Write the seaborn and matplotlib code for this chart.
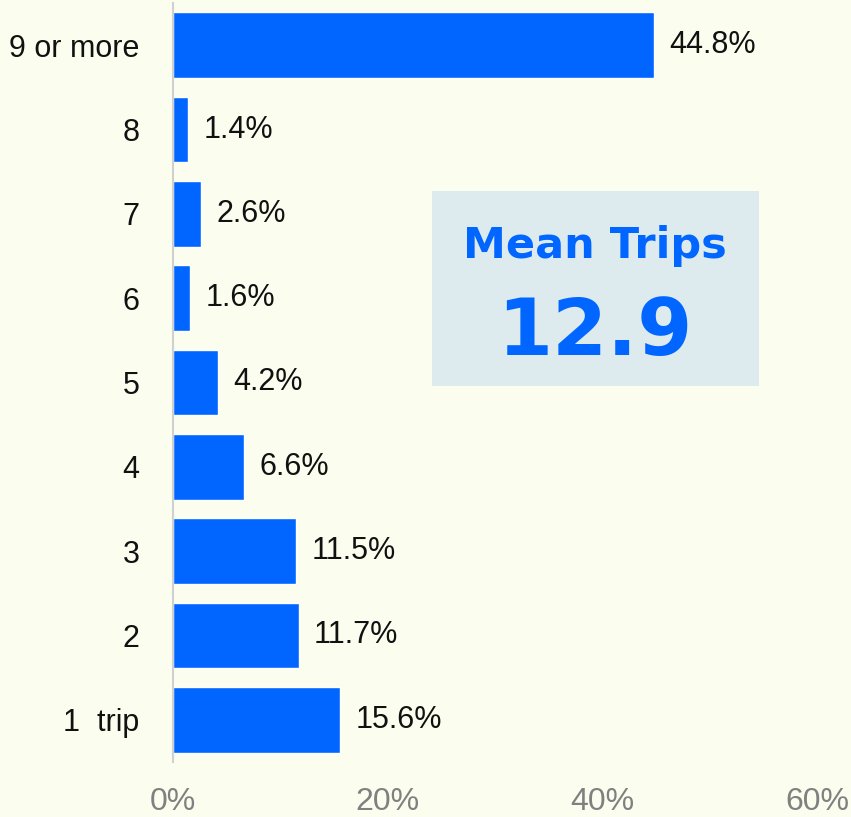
import matplotlib
matplotlib.use("Agg")
import matplotlib.pyplot as plt
import seaborn as sns
import pandas as pd
from matplotlib.patches import Rectangle

categories = ["9 or more", "8", "7", "6", "5", "4", "3", "2", "1  trip"]
values = [44.8, 1.4, 2.6, 1.6, 4.2, 6.6, 11.5, 11.7, 15.6]
xticks = [0, 20, 40, 60]
xtick_labels = ["0%", "20%", "40%", "60%"]
mean_title = "Mean Trips"
mean_value = "12.9"

BG = "#FBFEEE"
BLUE = "#0066FF"

sns.set_theme(style="white")
plt.rcParams["font.family"] = ["Liberation Sans", "DejaVu Sans"]

df = pd.DataFrame({"cat": categories, "val": values})

fig = plt.figure(figsize=(8.51, 8.17), dpi=100, facecolor=BG)
ax = fig.add_axes([173/851, 1 - 762/817, (817-173)/851, (762-3)/817])
ax.set_facecolor(BG)

sns.barplot(data=df, x="val", y="cat", orient="h", color=BLUE, width=0.78,
            saturation=1, ax=ax, order=categories)

ax.set_xlim(0, 60)
ax.set_ylim(8.5, -0.5)
ax.set_xlabel("")
ax.set_ylabel("")
ax.set_xticks(xticks)
ax.set_xticklabels(xtick_labels, fontsize=23,
                   family=["Liberation Sans Narrow", "Liberation Sans", "DejaVu Sans"],
                   color="#808080")
ax.tick_params(axis="x", length=0, pad=18)
ax.tick_params(axis="y", length=0, pad=24, labelsize=22, labelcolor="#111111")

for s in ["top", "right", "bottom"]:
    ax.spines[s].set_visible(False)
ax.spines["left"].set_color("#D0D0D0")
ax.spines["left"].set_linewidth(1.5)

ax.bar_label(ax.containers[0], labels=[f"{v:.1f}%" for v in values],
             padding=11, fontsize=22, color="#111111")

fig.add_artist(Rectangle((432/851, 1 - 386/817), 327/851, 195/817,
                         transform=fig.transFigure, facecolor="#DDEBEE",
                         edgecolor="none", zorder=3))
fig.text(595/851, 1 - 246/817, mean_title, ha="center", va="center",
         fontsize=31, fontweight="bold", color=BLUE,
         family=["DejaVu Sans"], zorder=4)
fig.text(595/851, 1 - 333/817, mean_value, ha="center", va="center",
         fontsize=57, fontweight="bold", color=BLUE,
         family=["DejaVu Sans"], zorder=4)

fig.savefig("out.png", dpi=100, facecolor=BG)
